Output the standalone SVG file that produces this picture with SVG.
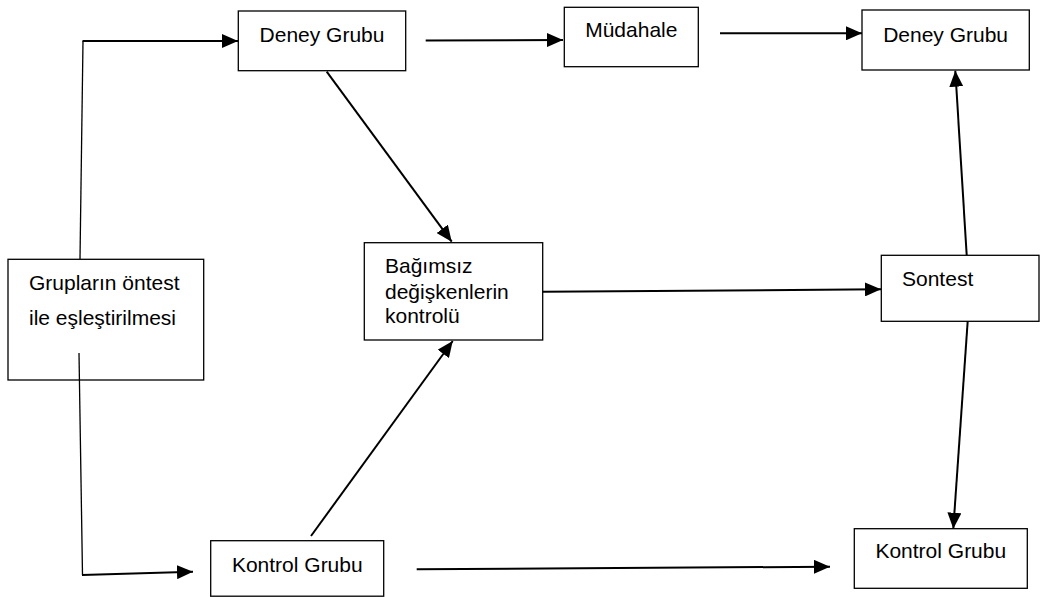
<svg xmlns="http://www.w3.org/2000/svg" width="1044" height="597" viewBox="0 0 1044 597">
<style>
.box{fill:#fff;stroke:#000;stroke-width:1.3}
.t{font-family:"Liberation Sans",Arial,sans-serif;font-size:21px;fill:#000}
.c{stroke:#000;stroke-width:2;fill:none}
.thin{stroke:#000;stroke-width:1.3;fill:none}
</style>
<defs>
<marker id="ah" markerUnits="userSpaceOnUse" markerWidth="16" markerHeight="14" refX="16" refY="7" orient="auto">
<path d="M0,0 L16,7 L0,14 z" fill="#000"/>
</marker>
</defs>
<rect width="1044" height="597" fill="#fff"/>
<g id="node-gruplarin">
<rect class="box" x="8" y="259.3" width="195.7" height="120.7"/>
<text class="t" x="29" y="290">Grupların öntest</text>
<text class="t" x="29" y="325">ile eşleştirilmesi</text>
</g>
<g id="node-deney1">
<rect class="box" x="238.3" y="11" width="167.4" height="59.7"/>
<text class="t" x="322" y="41.5" text-anchor="middle">Deney Grubu</text>
</g>
<g id="node-mudahale">
<rect class="box" x="564.3" y="7.3" width="134" height="59.4"/>
<text class="t" x="631.3" y="37.3" text-anchor="middle">Müdahale</text>
</g>
<g id="node-deney2">
<rect class="box" x="862" y="10" width="167.3" height="60"/>
<text class="t" x="945.6" y="41.7" text-anchor="middle">Deney Grubu</text>
</g>
<g id="node-bagimsiz">
<rect class="box" x="364.3" y="242.7" width="178.4" height="97.3"/>
<text class="t" x="385" y="273.3">Bağımsız</text>
<text class="t" x="385" y="299">değişkenlerin</text>
<text class="t" x="385" y="323.3">kontrolü</text>
</g>
<g id="node-sontest">
<rect class="box" x="881.3" y="255.3" width="157.7" height="66"/>
<text class="t" x="902" y="285.7">Sontest</text>
</g>
<g id="node-kontrol1">
<rect class="box" x="210.7" y="540.7" width="173" height="55.5"/>
<text class="t" x="297.3" y="571.7" text-anchor="middle">Kontrol Grubu</text>
</g>
<g id="node-kontrol2">
<rect class="box" x="854.3" y="528.7" width="173" height="59.6"/>
<text class="t" x="940.8" y="558.3" text-anchor="middle">Kontrol Grubu</text>
</g>
<g id="connectors">
<line class="thin" x1="80" y1="259" x2="83" y2="41"/>
<line class="c" x1="82.5" y1="41" x2="238" y2="41" marker-end="url(#ah)"/>
<line class="thin" x1="79" y1="353" x2="82.5" y2="575"/>
<line class="c" x1="82" y1="575" x2="193" y2="571.7" marker-end="url(#ah)"/>
<line class="c" x1="425.7" y1="40.5" x2="563" y2="40" marker-end="url(#ah)"/>
<line class="c" x1="720" y1="33.3" x2="862" y2="33.3" marker-end="url(#ah)"/>
<line class="c" x1="326.7" y1="71.7" x2="451.7" y2="241.7" marker-end="url(#ah)"/>
<line class="c" x1="311" y1="536" x2="452.7" y2="341" marker-end="url(#ah)"/>
<line class="c" x1="542.7" y1="291.7" x2="881" y2="289.3" marker-end="url(#ah)"/>
<line class="c" x1="966.7" y1="255" x2="955.3" y2="70.7" marker-end="url(#ah)"/>
<line class="c" x1="967.7" y1="321" x2="953.3" y2="528.7" marker-end="url(#ah)"/>
<line class="c" x1="416.7" y1="569.3" x2="830" y2="566.7" marker-end="url(#ah)"/>
</g>
</svg>
